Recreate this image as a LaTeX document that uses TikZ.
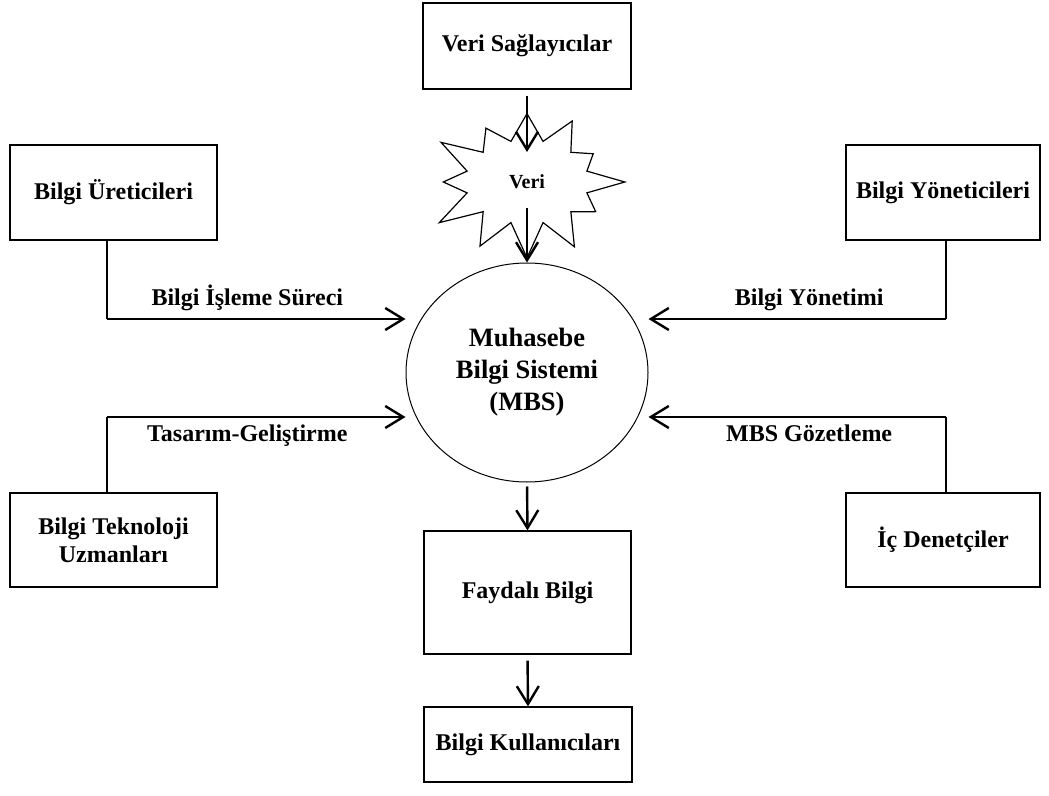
\documentclass[tikz,border=0pt]{standalone}
\usepackage{fontspec}
\setmainfont{Liberation Serif}
\usepackage{tikz}
\usetikzlibrary{arrows.meta, positioning, calc, shapes.geometric, shapes.symbols}

\begin{document}
\begin{tikzpicture}[x=0.5pt,y=-0.5pt,font=\bfseries\fontsize{12}{13.8}\selectfont,
  kutu/.style={draw, line width=0.6pt, align=center, inner sep=2pt},
  ok/.style={line width=1.2pt, -{Straight Barb[length=9pt,width=11pt,line width=1.2pt]}},
  ince/.style={line width=0.6pt}]

\useasboundingbox (0,0) rectangle (1049,796);

% ==================== Kutular ====================
\node[kutu, minimum width=104pt, minimum height=43pt]   (vs)  at (527,46)    {Veri Sağlayıcılar};
\node[kutu, minimum width=103.5pt, minimum height=47.5pt] (ure) at (113.5,192.5) {Bilgi Üreticileri};
\node[kutu, minimum width=97pt, minimum height=47.5pt]  (yon) at (943,192.5) {Bilgi Yöneticileri};
\node[kutu, minimum width=103.5pt, minimum height=47pt] (btu) at (113.5,540) {Bilgi Teknoloji\\Uzmanları};
\node[kutu, minimum width=97pt, minimum height=47pt]    (icd) at (943,540)   {İç Denetçiler};
\node[kutu, minimum width=103.5pt, minimum height=61.5pt] (fay) at (527.5,592.5) {Faydalı Bilgi};
\node[kutu, minimum width=104pt, minimum height=37.5pt] (kul) at (528,744.5) {Bilgi Kullanıcıları};

% Merkez: MBS
\node[draw, ellipse, line width=0.5pt, minimum width=121pt, minimum height=109.5pt,
      align=center, font=\bfseries\fontsize{13.25}{16}\selectfont] (mbs) at (527,372.5)
      {Muhasebe\\Bilgi Sistemi\\(MBS)};

% Veri (patlama)
\node[draw, starburst, line width=0.6pt, starburst points=12, starburst point height=20pt,
      random starburst=120, minimum width=102pt, minimum height=82pt,
      font=\bfseries\fontsize{10}{12}\selectfont] (veri) at (527,182) {Veri};

% ==================== Oklar ====================
\draw[ok, shorten <=3pt] (vs.south) -- ([yshift=15pt]veri.center);
\draw[ok] ([yshift=-13pt]veri.center) -- (mbs.north);
\draw[ok, shorten <=2pt] (mbs.south) -- (fay.north);
\draw[ok, shorten <=3pt] (fay.south) -- (kul.north);

% Sol
\coordinate (ure-d) at (107,319);
\coordinate (btu-u) at (107,417);
\draw[ince] (ure.south -| ure-d) -- (ure-d);
\draw[ok] (ure-d) -- (ure-d -| mbs.west) node[pos=0.47, above] {Bilgi İşleme Süreci};
\draw[ince] (btu.north -| btu-u) -- (btu-u);
\draw[ok] (btu-u) -- (btu-u -| mbs.west) node[pos=0.47, below] {Tasarım-Geliştirme};

% Sag
\coordinate (yon-d) at (946,319);
\coordinate (icd-u) at (946,417);
\draw[ince] (yon.south -| yon-d) -- (yon-d);
\draw[ok] (yon-d) -- (yon-d -| mbs.east) node[pos=0.46, above] {Bilgi Yönetimi};
\draw[ince] (icd.north -| icd-u) -- (icd-u);
\draw[ok] (icd-u) -- (icd-u -| mbs.east) node[pos=0.46, below] {MBS Gözetleme};

\end{tikzpicture}
\end{document}
